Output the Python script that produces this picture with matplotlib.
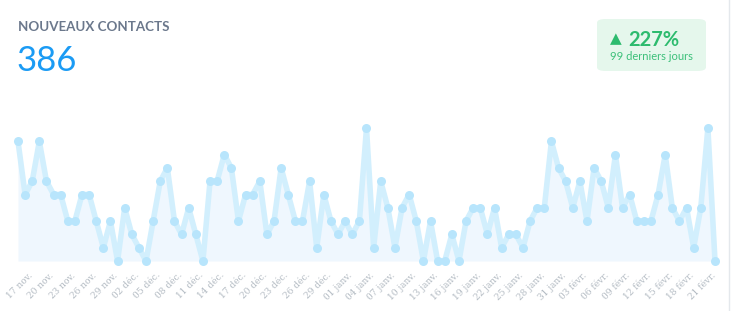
import datetime
import matplotlib
matplotlib.use("Agg")
import matplotlib.pyplot as plt
import matplotlib.transforms as mtransforms
from matplotlib.patches import FancyBboxPatch

# Données : nouveaux contacts par jour (99 derniers jours)
start = datetime.date(2018, 11, 17)
values = [9, 5, 6, 9, 6, 5, 5, 3, 3, 5, 5, 3, 1, 3, 0, 4, 2, 1, 0, 3,
          6, 7, 3, 2, 4, 2, 0, 6, 6, 8, 7, 3, 5, 5, 6, 2, 3, 7, 5, 3,
          3, 6, 1, 5, 3, 2, 3, 2, 3, 10, 1, 6, 4, 1, 4, 5, 3, 0, 3, 0,
          0, 2, 0, 3, 4, 4, 2, 4, 1, 2, 2, 1, 3, 4, 4, 9, 7, 6, 4, 6,
          3, 7, 6, 4, 8, 4, 5, 3, 3, 3, 5, 8, 4, 3, 4, 1, 4, 10, 0]
mois = {11: "nov.", 12: "déc.", 1: "janv.", 2: "févr."}
total = "386"
evolution = "227%"
periode = "99 derniers jours"

days = [start + datetime.timedelta(days=i) for i in range(len(values))]
idx = list(range(len(values)))
tick_pos = idx[::3][:33]
tick_labels = ["%02d %s" % (days[i].day, mois[days[i].month]) for i in tick_pos]

W, H = 732, 311
fig = plt.figure(figsize=(W / 100, H / 100), dpi=100)
fig.patch.set_facecolor("white")

# Zone du graphique
x0, x1 = 18, 715
y_top, y_bot = 128, 261
ax = fig.add_axes([x0 / W, 1 - y_bot / H, (x1 - x0) / W, (y_bot - y_top) / H])
ax.set_xlim(0, len(values) - 1)
ax.set_ylim(0, 10)
ax.fill_between(idx, values, 0, color="#eff7fe", lw=0)
ax.plot(idx, values, color="#d2effd", lw=4, solid_joinstyle="round",
        clip_on=False, zorder=3)
ax.plot(idx, values, ls="none", marker="o", ms=6.5, mfc="#b8e5fc", mec="none",
        clip_on=False, zorder=4)
for s in ax.spines.values():
    s.set_visible(False)
ax.set_yticks([])
ax.set_xticks(tick_pos)
ax.set_xticklabels(tick_labels, rotation=45, ha="right", va="top",
                   rotation_mode="anchor", fontsize=6.5, color="#b2bac2",
                   family="DejaVu Serif")
ax.tick_params(axis="x", length=0, pad=7)
offset = mtransforms.ScaledTranslation(10 / 100, 0, fig.dpi_scale_trans)
for lab in ax.get_xticklabels():
    lab.set_transform(lab.get_transform() + offset)

# Titre et total
fig.text(18 / W, 1 - 27 / H, "NOUVEAUX CONTACTS", fontsize=9.6, color="#6b788c",
         fontweight="bold", family="Lato", va="center", ha="left")
fig.text(16 / W, 1 - 61 / H, total, fontsize=25, color="#1b9bf4",
         family="Lato", va="center", ha="left")

# Badge d'évolution
badge = FancyBboxPatch((597 / W, 1 - 71 / H), 109 / W, 52 / H,
                       boxstyle="round,pad=0,rounding_size=0.012",
                       transform=fig.transFigure, fc="#e5f7ec", ec="none")
fig.patches.append(badge)
fig.text(616 / W, 1 - 39 / H, "▲", fontsize=11, color="#2dbb6e",
         family="DejaVu Sans", va="center", ha="center")
fig.text(628 / W, 1 - 40 / H, evolution, fontsize=14.5, color="#2dbb6e",
         fontweight="bold", family="Lato", va="center", ha="left")
fig.text(651 / W, 1 - 56 / H, periode, fontsize=8, color="#3cc07a",
         family="Lato", va="center", ha="center")

# Bordure droite de la carte
fig.add_artist(plt.Line2D([729 / W, 729 / W], [0, 1], color="#e4e8ec", lw=1,
                          transform=fig.transFigure))

fig.savefig("out.png", dpi=100, facecolor="white")
